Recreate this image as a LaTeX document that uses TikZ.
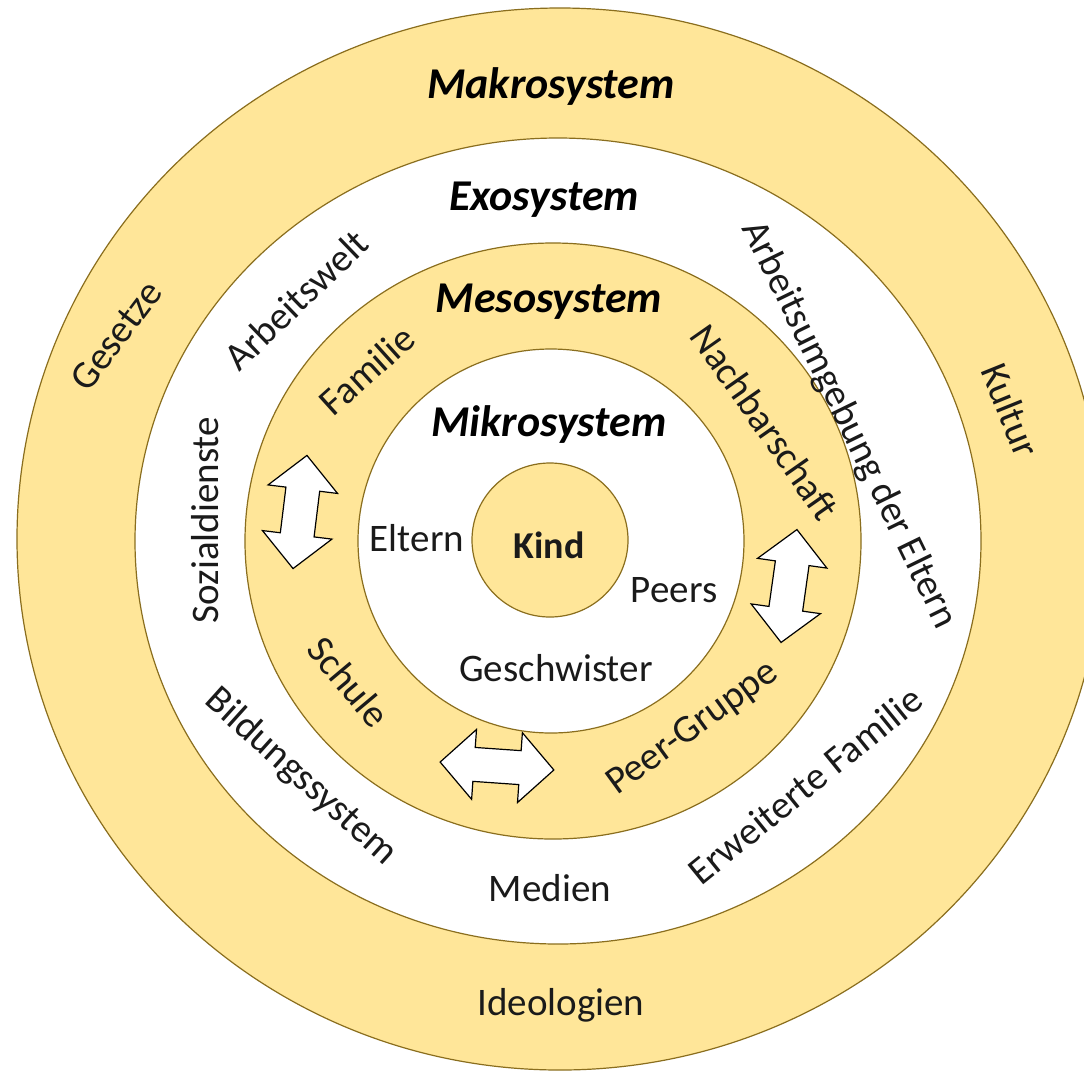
\documentclass[tikz,border=0pt]{standalone}
\usepackage{fontspec}
\setmainfont{Carlito}
\definecolor{ringfill}{HTML}{FFE699}
\definecolor{rim}{HTML}{8A6E1E}
\definecolor{ink}{HTML}{1A1A1A}
\begin{document}
\begin{tikzpicture}[x=1pt,y=-1pt,
  ringband/.style={fill=ringfill,draw=rim,line width=1.2pt},
  whiteband/.style={fill=white,draw=rim,line width=1.2pt},
  lbl/.style={text=ink,inner sep=0pt,font=\fontsize{39}{42}\selectfont},
  hd/.style={text=black,inner sep=0pt,font=\fontsize{44}{48}\selectfont\bfseries\itshape},
  arrowbody/.style={fill=white,draw=black,line width=1.2pt,line join=miter},
  dblarrow/.pic={\draw[arrowbody] (0,-57) -- (35,-23) -- (17,-23) -- (17,23) -- (35,23) -- (0,57)
      -- (-35,23) -- (-17,23) -- (-17,-23) -- (-35,-23) -- cycle;}]
\useasboundingbox (0,0) rectangle (1084,1072);
\clip (0,0) rectangle (1084,1072);
\fill[white] (0,0) rectangle (1084,1072);
% rings
\draw[ringband] (560,539) ellipse [x radius=543, y radius=531];
\draw[whiteband] (558,541) ellipse [x radius=423, y radius=403];
\draw[ringband] (553,541) ellipse [x radius=308, y radius=298];
\draw[whiteband] (551,541) ellipse [x radius=193, y radius=192];
\draw[ringband] (550,540) ellipse [x radius=78, y radius=77];
% headings
\node[hd] (makro) at (551,87) {Makrosystem};
\node[hd] (exo) at (544,200) {Exosystem};
\node[hd] (meso) at (549,302) {Mesosystem};
\node[hd] (mikro) at (549,425) {Mikrosystem};
\node[lbl,font=\fontsize{38}{40}\selectfont\bfseries] (kind) at (549,545) {Kind};
% mikrosystem
\node[lbl] (eltern) at (417,538) {Eltern};
\node[lbl] (peers) at (674,590) {Peers};
\node[lbl] (geschw) at (556,668) {Geschwister};
% mesosystem
\node[lbl,rotate=42] (familie) at (367,370) {Familie};
\node[lbl,rotate=-55] (nachbar) at (765,422) {Nachbarschaft};
\node[lbl,rotate=-50] (schule) at (349,682) {Schule};
\node[lbl,rotate=36] (peergr) at (693,729) {Peer-Gruppe};
% exosystem
\node[lbl,rotate=44] (arbeitswelt) at (296,300) {Arbeitswelt};
\node[lbl,rotate=90] (sozial) at (205,520) {Sozialdienste};
\node[lbl,rotate=-64] (arbeitsumg) at (849,425) {Arbeitsumgebung der Eltern};
\node[lbl,rotate=-42] (bildung) at (301,777) {Bildungssystem};
\node[lbl,rotate=39] (erweitert) at (805,785) {Erweiterte Familie};
\node[lbl] (medien) at (550,888) {Medien};
% makrosystem
\node[lbl,rotate=53] (gesetze) at (116,336) {Gesetze};
\node[lbl,rotate=-68] (kultur) at (1011,410) {Kultur};
\node[lbl] (ideologien) at (561,1005) {Ideologien};
% double arrows
\pic[rotate=-7] (arrowleft) at (300,512) {dblarrow};
\pic[rotate=-8] (arrowright) at (789,586) {dblarrow};
\pic[rotate=86] (arrowbottom) at (497,766) {dblarrow};
\end{tikzpicture}
\end{document}
